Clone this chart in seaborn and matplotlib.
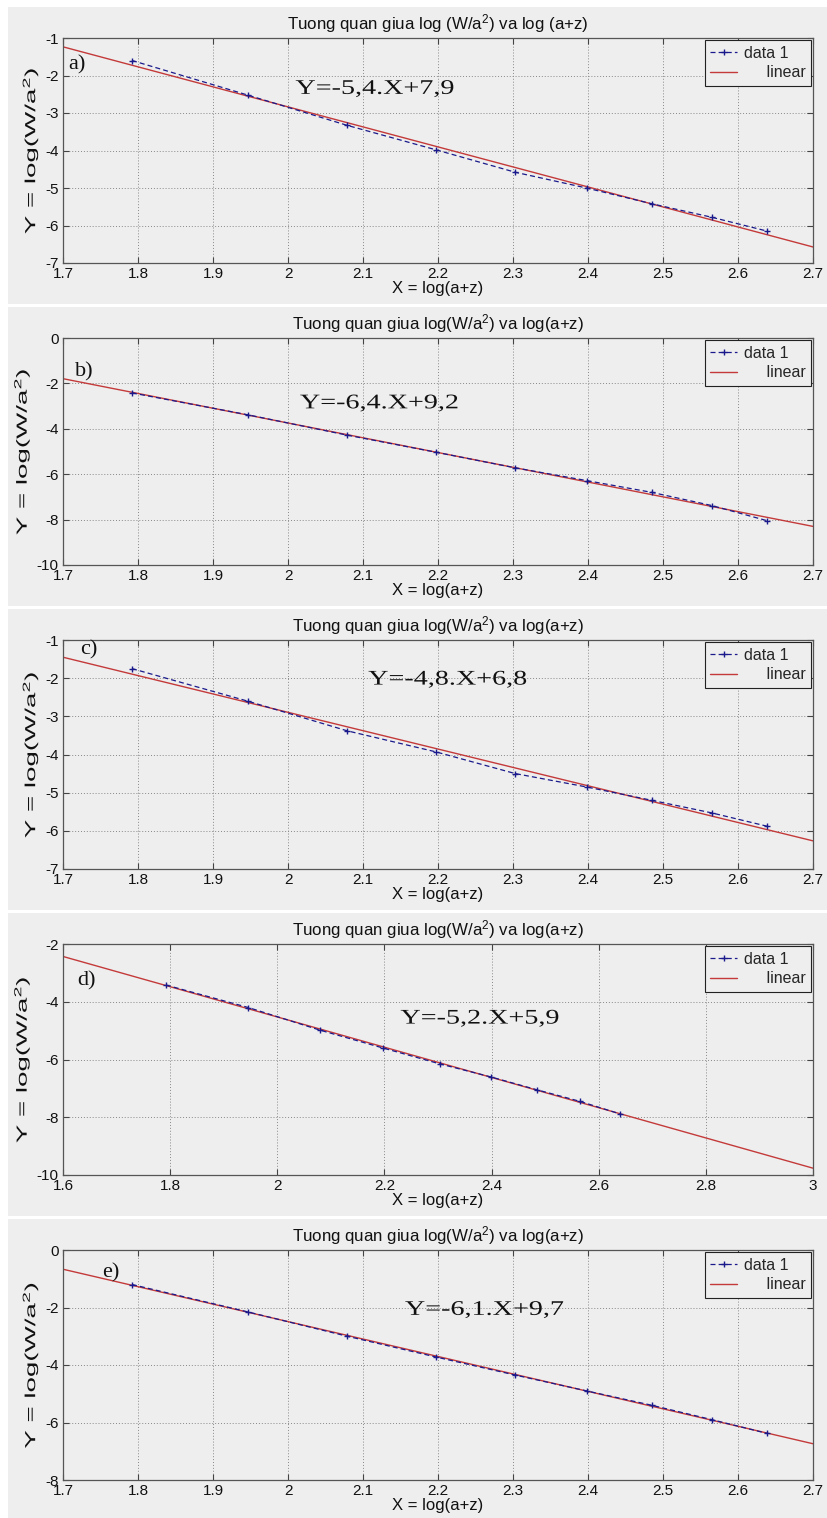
import numpy as np
import pandas as pd
import matplotlib
matplotlib.use("Agg")
import matplotlib.pyplot as plt
import seaborn as sns
from matplotlib.patches import Rectangle
from matplotlib.ticker import FuncFormatter, MultipleLocator
from matplotlib.patheffects import AbstractPathEffect
from matplotlib.transforms import Affine2D

# ---------------- data ----------------
x_vals = [1.792, 1.946, 2.079, 2.197, 2.303, 2.398, 2.485, 2.565, 2.639]
y_a = [-1.60, -2.52, -3.33, -3.98, -4.58, -5.00, -5.42, -5.78, -6.15]
y_b = [-2.42, -3.38, -4.28, -5.03, -5.72, -6.28, -6.80, -7.38, -8.05]
y_c = [-1.75, -2.60, -3.38, -3.93, -4.50, -4.85, -5.20, -5.53, -5.88]
y_d = [-3.42, -4.20, -4.98, -5.60, -6.15, -6.60, -7.05, -7.45, -7.88]
y_e = [-1.20, -2.15, -3.00, -3.72, -4.35, -4.90, -5.40, -5.90, -6.38]
series = [y_a, y_b, y_c, y_d, y_e]

panel_labels = ["a)", "b)", "c)", "d)", "e)"]
equations = ["Y=-5,4.X+7,9", "Y=-6,4.X+9,2", "Y=-4,8.X+6,8", "Y=-5,2.X+5,9", "Y=-6,1.X+9,7"]
titles = [r"Tuong quan giua log (W/a$^{2}$) va log (a+z)"] + \
         [r"Tuong quan giua log(W/a$^{2}$) va log(a+z)"] * 4
legend_labels = ["data 1", "linear"]
xlabel_text = "X = log(a+z)"
ylabel_text = r"Y = log(W/a$^{2}$)"

xlims = [(1.7, 2.7), (1.7, 2.7), (1.7, 2.7), (1.6, 3.0), (1.7, 2.7)]
ylims = [(-7, -1), (-10, 0), (-7, -1), (-10, -2), (-8, 0)]
xsteps = [0.1, 0.1, 0.1, 0.2, 0.1]
ysteps = [1, 2, 1, 2, 2]


class Stretch(AbstractPathEffect):
    """Stretch a text along its reading direction about an anchor."""
    def __init__(self, sx, anchor=0.5):
        super().__init__()
        self.sx = sx
        self.anchor = anchor

    def draw_path(self, renderer, gc, tpath, affine, rgbFace=None):
        ext = tpath.get_extents()
        x0 = ext.x0 + self.anchor * ext.width
        t = Affine2D().translate(-x0, 0).scale(self.sx, 1).translate(x0, 0)
        renderer.draw_path(gc, tpath, t + affine, rgbFace)


# ---------------- styling / layout ----------------
W, H = 827, 1518
GRAY = "#eeeeee"
TXT = "#111111"
sns.set_theme(style="white")
plt.rcParams["font.family"] = ["Liberation Sans", "DejaVu Sans"]
plt.rcParams["mathtext.default"] = "regular"

fig = plt.figure(figsize=(W / 100, H / 100), dpi=100, facecolor="white")

panels_px = [(7, 304), (307, 606), (609, 910), (913, 1216), (1219, 1521)]
label_pos = [(0.007, 0.88), (0.016, 0.85), (0.023, 0.955), (0.019, 0.84), (0.052, 0.90)]
eq_pos = [(2.01, -2.37), (2.016, -2.9), (2.107, -2.05), (2.23, -4.6), (2.156, -2.1)]

fmt = FuncFormatter(lambda v, p: f"{v:g}")
SERIF = ["Liberation Serif", "DejaVu Serif"]

for i in range(5):
    top, bot = panels_px[i]
    fig.add_artist(Rectangle((8 / W, 1 - bot / H), (W - 8) / W, (bot - top) / H,
                             transform=fig.transFigure, facecolor=GRAY,
                             edgecolor="none", zorder=-10))
    ax_top = top + 31
    ax_bot = bot - 41
    ax = fig.add_axes([63 / W, 1 - ax_bot / H, 750 / W, (ax_bot - ax_top) / H])
    ax.set_facecolor(GRAY)

    ax.set_xlim(*xlims[i])
    ax.set_ylim(*ylims[i])

    df = pd.DataFrame({"x": x_vals, "y": series[i]})
    sns.lineplot(data=df, x="x", y="y", ax=ax, color="#1a1a8c", linewidth=0.9,
                 linestyle=(0, (4, 2.5)), marker="+", markersize=5,
                 markeredgewidth=1.0, markeredgecolor="#1a1a8c",
                 markerfacecolor="#1a1a8c", sort=False, zorder=3,
                 label=legend_labels[0])
    sns.regplot(data=df, x="x", y="y", ax=ax, scatter=False, ci=None,
                truncate=False, color="#c43a3a", line_kws={"linewidth": 1.0, "zorder": 2},
                label=legend_labels[1])
    ax.set_xlim(*xlims[i])
    ax.set_ylim(*ylims[i])

    ax.xaxis.set_major_locator(MultipleLocator(xsteps[i]))
    ax.yaxis.set_major_locator(MultipleLocator(ysteps[i]))
    ax.xaxis.set_major_formatter(fmt)
    ax.yaxis.set_major_formatter(fmt)
    ax.grid(True, linestyle=(0, (1, 2)), color="#888888", linewidth=0.7)
    ax.tick_params(direction="in", length=4, width=0.8, color="#444444",
                   top=True, right=True, bottom=True, left=True,
                   labelsize=11, pad=3, labelcolor=TXT)
    for s in ax.spines.values():
        s.set_visible(True)
        s.set_color("#555555")
        s.set_linewidth(0.9)

    ax.set_title(titles[i], fontsize=12.2, pad=6, color=TXT)
    ax.set_xlabel(xlabel_text, fontsize=12, labelpad=0, color=TXT)
    yl = ax.set_ylabel(ylabel_text, fontsize=10.5, labelpad=3, color=TXT)
    yl.set_path_effects([Stretch(1.9, 0.5)])

    ax.text(label_pos[i][0], label_pos[i][1], panel_labels[i], transform=ax.transAxes,
            family=SERIF, fontsize=16, ha="left", va="center", color=TXT)
    eq = ax.text(eq_pos[i][0], eq_pos[i][1], equations[i], family=SERIF, fontsize=15,
                 ha="left", va="center", color=TXT)
    eq.set_path_effects([Stretch(1.35, 0.0)])

    handles = [ax.lines[0], ax.lines[1]]
    leg = ax.legend(handles, ["data 1", "     linear"], loc="upper right",
                    fontsize=11.5, frameon=True, fancybox=False, framealpha=1,
                    facecolor=GRAY, edgecolor="#222222", borderaxespad=0.12,
                    handlelength=1.7, handletextpad=0.4, borderpad=0.35,
                    labelspacing=0.3)
    leg.get_frame().set_linewidth(0.8)

fig.savefig("out.png", dpi=100, facecolor="white")
